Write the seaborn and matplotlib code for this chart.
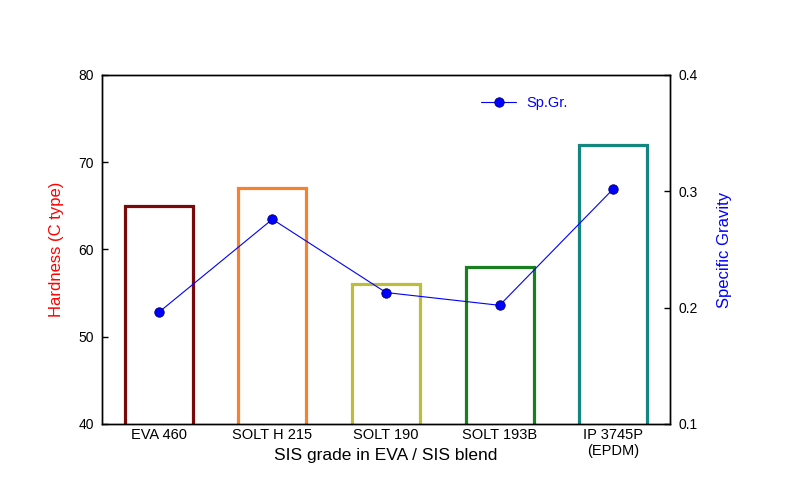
import matplotlib
matplotlib.use("Agg")
import matplotlib.pyplot as plt
import seaborn as sns
import pandas as pd

grades = ["EVA 460", "SOLT H 215", "SOLT 190", "SOLT 193B", "IP 3745P\n(EPDM)"]
hardness = [65, 67, 56, 58, 72]
sp_gr = [0.196, 0.276, 0.213, 0.202, 0.302]
bar_colors = ["#7a0a0a", "#f5822f", "#bdbd3c", "#1a7f1f", "#138680"]

df = pd.DataFrame({"grade": grades, "hardness": hardness, "spgr": sp_gr})

sns.set_style("white")
plt.rcParams["font.family"] = ["Liberation Sans", "DejaVu Sans"]
plt.rcParams["text.color"] = "black"

fig = plt.figure(figsize=(7.87, 4.96), dpi=100)
ax = fig.add_axes([0.1296, 0.1452, 0.7217, 0.7036])

sns.barplot(data=df, x="grade", y="hardness", hue="grade", palette=bar_colors,
            fill=False, linewidth=2.3, width=0.6, legend=False, ax=ax)
ax.set_ylim(40, 80)
ax.set_xlim(-0.5, 4.5)
ax.set_yticks([40, 50, 60, 70, 80])
ax.set_ylabel("Hardness (C type)", color="red", fontsize=12, labelpad=10)
ax.set_xlabel("SIS grade in EVA / SIS blend", fontsize=12.5, color="black")
ax.xaxis.set_label_coords(0.5, -0.068)
ax.tick_params(axis="y", direction="in", length=4, width=1, pad=6, labelsize=10,
               color="black", labelcolor="black")
ax.tick_params(axis="x", length=0, pad=3, labelsize=10.5, labelcolor="black")
for s in ax.spines.values():
    s.set_color("black")
    s.set_linewidth(1)

ax2 = ax.twinx()
sns.lineplot(x=range(len(grades)), y=sp_gr, ax=ax2, color="blue", linewidth=0.8,
             marker="o", markersize=6.8, markerfacecolor="blue",
             markeredgecolor="#000060", markeredgewidth=0.6, label="Sp.Gr.")
ax2.set_xlim(-0.5, 4.5)
ax2.set_ylim(0.1, 0.4)
ax2.set_yticks([0.1, 0.2, 0.3, 0.4])
ax2.set_yticklabels(["0.1", "0.2", "0.3", "0.4"])
ax2.set_ylabel("Specific Gravity", color="blue", fontsize=12, labelpad=14)
ax2.tick_params(axis="y", direction="in", length=4, width=1, pad=6, labelsize=10,
                color="black", labelcolor="black")
for s in ax2.spines.values():
    s.set_color("black")
    s.set_linewidth(1)

leg = ax2.legend(loc="upper left", bbox_to_anchor=(0.645, 0.977), frameon=False,
                 fontsize=10.5, handlelength=2.4, handletextpad=0.7)
for t in leg.get_texts():
    t.set_color("blue")

fig.savefig("out.png", dpi=100)
